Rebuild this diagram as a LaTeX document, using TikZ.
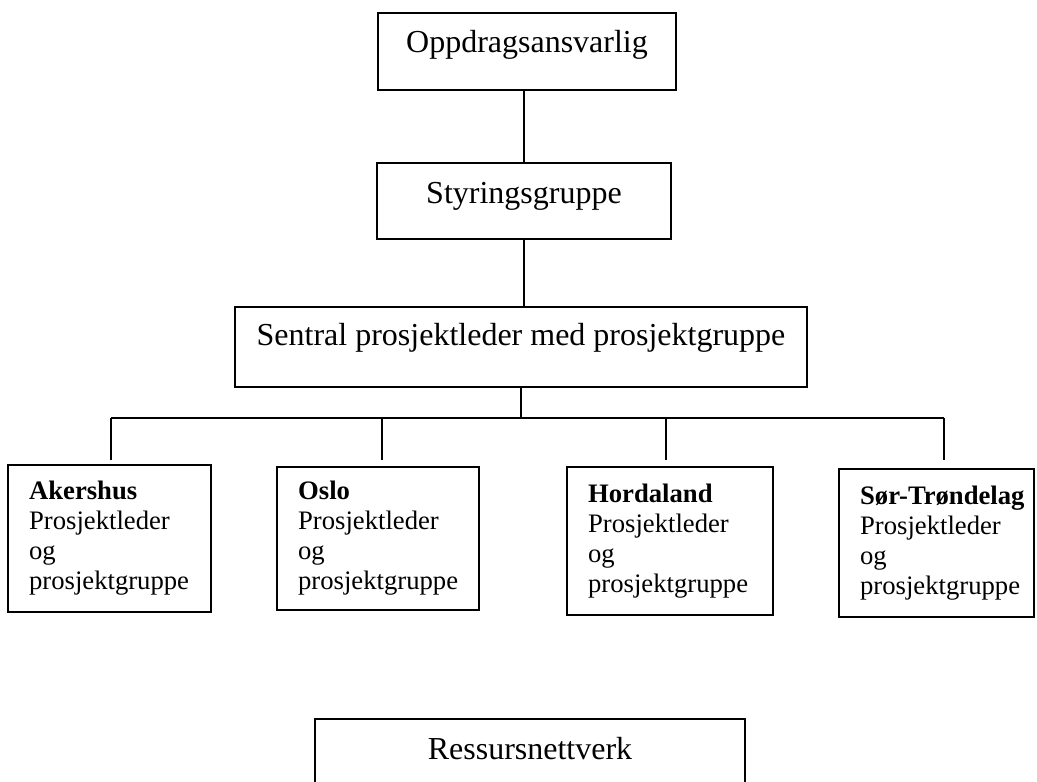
\documentclass[tikz,border=0pt]{standalone}
\usepackage{fontspec}
\setmainfont{Liberation Serif}
\usepackage{tikz}
\usetikzlibrary{positioning}

\begin{document}
\begin{tikzpicture}[x=0.375pt, y=-0.375pt,
  unit/.style={draw, line width=0.75pt, anchor=north, minimum width=111pt, inner ysep=0pt,
      text height=15pt, text depth=13.9pt, font=\fontsize{12}{14}\selectfont},
  region/.style={draw, line width=0.75pt, text width=#1, minimum height=55pt,
      inner xsep=7.9pt, inner ysep=0pt, align=left,
      font={\fontsize{10}{11.25}\selectfont\hyphenpenalty 10000 \exhyphenpenalty 10000\relax}},
  link/.style={line width=0.45pt}]
\useasboundingbox (0,0) rectangle (1037,781);
\clip (0,0) rectangle (1037,781);

\node[unit, minimum width=111.75pt] (oppdrag) at (527,12) {Oppdragsansvarlig};
\node[unit, minimum width=110.6pt, text depth=13.5pt] (styring) at (524,162) {Styringsgruppe};
\node[unit, minimum width=214.5pt, text height=14.6pt, text depth=15.4pt] (sentral) at (521,306)
  {Sentral prosjektleder med prosjektgruppe};

\node[region=60.3pt] (akershus) at (109.5,538.5)
  {\textbf{Akershus}\\Prosjektleder\\og\\prosjektgruppe};
\node[region=59.9pt, minimum height=53.6pt] (oslo) at (378,538.5)
  {\textbf{Oslo}\\Prosjektleder\\og\\prosjektgruppe};
\node[region=61.4pt, minimum height=55.5pt] (hordaland) at (670,541)
  {\textbf{Hordaland}\\Prosjektleder\\og\\prosjektgruppe};
\node[region=57.3pt, minimum height=55.5pt] (trondelag) at (936.5,543)
  {\mbox{\textbf{Sør-Trøndelag}}\\Prosjektleder\\og\\\mbox{prosjektgruppe}};

\node[unit, minimum width=161.25pt, text depth=20pt] (ressurs) at (530,718) {Ressursnettverk};

\coordinate (bus) at (sentral.south |- 0,418);
\coordinate (busL) at (111,418);
\coordinate (busR) at (944,418);
\coordinate (dropA) at (111,460);
\coordinate (dropO) at (382,460);
\coordinate (dropH) at (666,460);
\coordinate (dropT) at (944,460);

\draw[link] (oppdrag.south -| styring.north) -- (styring.north);
\draw[link] (styring.south) -- (styring.south |- sentral.north);
\draw[link] (sentral.south) -- (bus);
\draw[link] (busL) -- (busR);
\foreach \d in {dropA,dropO,dropH,dropT}
  \draw[link] (\d) -- (\d |- bus);
\end{tikzpicture}
\end{document}
